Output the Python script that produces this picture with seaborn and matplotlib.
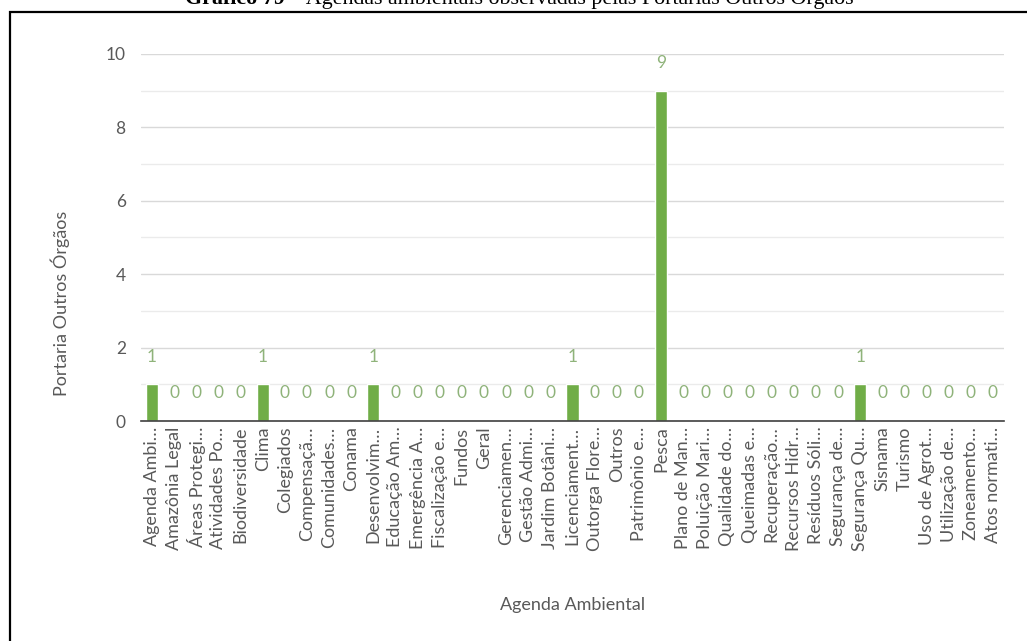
import matplotlib
matplotlib.use("Agg")
import matplotlib.pyplot as plt
from matplotlib.patches import Rectangle
from matplotlib.ticker import MultipleLocator
import seaborn as sns
import pandas as pd

categorias = [
    "Agenda Ambi…", "Amazônia Legal", "Áreas Protegi…", "Atividades Po…",
    "Biodiversidade", "Clima", "Colegiados", "Compensaçã…", "Comunidades…",
    "Conama", "Desenvolvim…", "Educação Am…", "Emergência A…",
    "Fiscalização e…", "Fundos", "Geral", "Gerenciamen…", "Gestão Admi…",
    "Jardim Botâni…", "Licenciament…", "Outorga Flore…", "Outros",
    "Patrimônio e…", "Pesca", "Plano de Man…", "Poluição Mari…",
    "Qualidade do…", "Queimadas e…", "Recuperação…", "Recursos Hidr…",
    "Resíduos Sóli…", "Segurança de…", "Segurança Qu…", "Sisnama",
    "Turismo", "Uso de Agrot…", "Utilização de…", "Zoneamento…",
    "Atos normati…",
]
portarias = [
    1, 0, 0, 0, 0, 1, 0, 0, 0, 0, 1, 0, 0, 0, 0, 0, 0, 0, 0, 1,
    0, 0, 0, 9, 0, 0, 0, 0, 0, 0, 0, 0, 1, 0, 0, 0, 0, 0, 0,
]
y_ticks = [0, 2, 4, 6, 8, 10]

titulo_bold = "Gráfico 79"
titulo_resto = " – Agendas ambientais observadas pelas Portarias Outros Órgãos"

df = pd.DataFrame({"Agenda Ambiental": categorias, "Portaria Outros Órgãos": portarias})

sns.set_theme(style="white")
plt.rcParams["font.family"] = ["Lato", "DejaVu Sans"]

W, H = 1027, 641
fig = plt.figure(figsize=(W / 100, H / 100), dpi=100)

# plot area placed in pixel units
x0, x1, ytop, ybot = 141, 1004, 54, 421
ax = fig.add_axes([x0 / W, 1 - ybot / H, (x1 - x0) / W, (ybot - ytop) / H])

bar_color = "#70ad47"
sns.barplot(data=df, x="Agenda Ambiental", y="Portaria Outros Órgãos",
            color=bar_color, width=0.55, saturation=1, ax=ax, zorder=3)

ax.set_ylim(0, 10)
ax.set_xlim(-0.5, len(categorias) - 0.5)
ax.set_yticks(y_ticks)
ax.yaxis.set_minor_locator(MultipleLocator(1))
ax.grid(axis="y", which="major", color="#d9d9d9", linewidth=1, zorder=0)
ax.grid(axis="y", which="minor", color="#ebebeb", linewidth=1, zorder=0)
ax.set_axisbelow(True)
for s in ["top", "right", "left"]:
    ax.spines[s].set_visible(False)
ax.spines["bottom"].set_color("#404040")
ax.spines["bottom"].set_linewidth(1.2)
ax.spines["bottom"].set_zorder(4)

ax.tick_params(axis="y", which="both", length=0, pad=11, labelsize=12.5,
               labelcolor="#595959")
ax.tick_params(axis="x", length=0, pad=4, labelsize=13, labelcolor="#595959")
ax.set_xticks(range(len(categorias)))
ax.set_xticklabels(categorias, rotation=90, ha="center", va="top")

ax.set_xlabel("")
ax.set_ylabel("")

# value labels above each bar
for i, v in enumerate(portarias):
    ax.annotate(str(v), (i, v), xytext=(0, 20), textcoords="offset points",
                ha="center", va="center", fontsize=12.5, color="#8fb37a")

fig.text(60 / W, 1 - 303 / H, "Portaria Outros Órgãos", rotation=90,
         ha="center", va="center", fontsize=13, color="#595959")
fig.text(573 / W, 1 - 605 / H, "Agenda Ambiental",
         ha="center", va="center", fontsize=13, color="#595959")

# frame around the chart
fig.patches.append(Rectangle((10 / W, -0.05), 1.1, 1 - 12 / H + 0.05,
                             transform=fig.transFigure, fill=False,
                             edgecolor="black", linewidth=1.6))

# caption at the top edge
t1 = fig.text(185 / W, 1 - 4 / H, titulo_bold, ha="left", va="baseline",
              fontsize=15.8, fontweight="bold", family="Liberation Serif", color="black")
fig.canvas.draw()
bb = t1.get_window_extent()
fig.text(bb.x1 / W, 1 - 4 / H, titulo_resto, ha="left", va="baseline",
         fontsize=15.8, family="Liberation Serif", color="black")

fig.savefig("out.png", dpi=100)
